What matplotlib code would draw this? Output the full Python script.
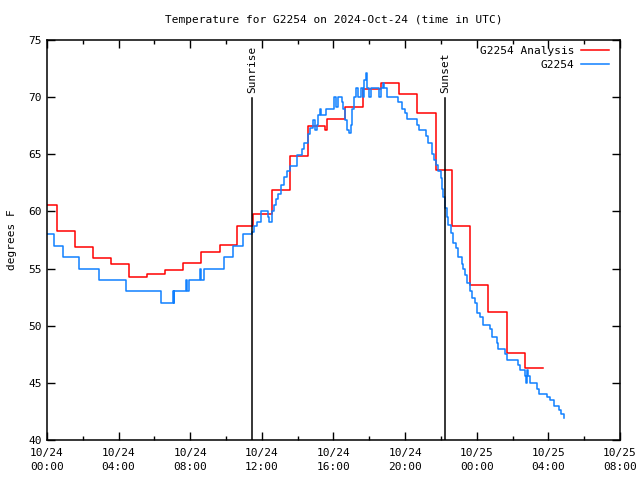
import matplotlib
matplotlib.use("Agg")
import matplotlib.pyplot as plt
import matplotlib.dates as mdates
from matplotlib.ticker import FixedLocator
import numpy as np
import pandas as pd

# hours after 2024-10-24 00:00 UTC
start = pd.Timestamp("2024-10-24 00:00")

analysis_hours = [0, 0.55, 1.55, 2.55, 3.56, 4.58, 5.57, 6.6, 7.6, 8.6, 9.66,
                  10.6, 11.5, 12.58, 13.6, 14.6, 15.53, 15.66, 16.65, 17.64,
                  18.66, 19.66, 20.65, 21.7, 22.64, 23.65, 24.65, 25.68, 26.7, 27.7]
analysis_temp = [60.6, 58.3, 56.85, 55.9, 55.4, 54.3, 54.5, 54.85, 55.5, 56.45, 57.1,
                 58.7, 59.8, 61.9, 64.85, 67.5, 67.1, 68.1, 69.1, 70.7,
                 71.2, 70.3, 68.6, 63.6, 58.75, 53.55, 51.2, 47.6, 46.27, 46.27]

obs_hours = [0.0, 0.37, 0.9, 1.8, 2.93, 4.44, 6.37, 7.02, 7.08, 7.12, 7.77, 7.83, 7.95,
             8.55, 8.62, 8.75, 9.9, 10.37, 10.97, 11.47, 11.58, 11.71, 11.96, 12.33,
             12.4, 12.59, 12.7, 12.78, 12.89, 13.07, 13.26, 13.39, 13.58, 13.95, 14.26,
             14.37, 14.56, 14.69, 14.88, 14.97, 15.07, 15.16, 15.25, 15.31, 15.57,
             16.03, 16.15, 16.28, 16.46, 16.55, 16.65, 16.78, 16.89, 16.97, 17.02,
             17.15, 17.26, 17.39, 17.53, 17.64, 17.71, 17.82, 17.9, 18.01, 18.08,
             18.56, 18.64, 18.75, 18.83, 18.98, 19.63, 19.82, 20.0, 20.1, 20.69,
             20.8, 21.17, 21.3, 21.49, 21.62, 21.73, 21.86, 21.99, 22.07, 22.14,
             22.23, 22.33, 22.42, 22.55, 22.7, 22.85, 22.98, 23.17, 23.26, 23.35,
             23.45, 23.63, 23.76, 23.91, 24.04, 24.19, 24.34, 24.75, 24.84, 25.16,
             25.21, 25.59, 25.68, 26.33, 26.42, 26.7, 26.74, 26.8, 26.86, 26.98,
             27.39, 27.5, 27.92, 28.1, 28.29, 28.57, 28.69, 28.85]
obs_temp = [58, 57, 56, 55, 54, 53, 52, 53, 52, 53, 54, 53, 54,
            55, 54, 55, 56, 57, 58, 58.2, 58.7, 59.1, 60.0, 59.5,
            59.1, 60.0, 60.6, 61.1, 61.5, 62.3, 63.0, 63.5, 64.0, 64.9, 65.5,
            66.0, 66.8, 67.3, 68.0, 67.1, 67.6, 68.4, 69.0, 68.4, 69.0,
            70.0, 69.1, 70.0, 69.6, 69.0, 68.0, 67.1, 66.9, 67.6, 69.0,
            70.0, 70.8, 70.0, 70.8, 70.0, 71.5, 72.1, 70.8, 70.0, 70.8,
            70.0, 70.8, 71.2, 70.8, 70.0, 69.6, 69.0, 68.6, 68.1, 67.6,
            67.1, 66.6, 66.0, 65.0, 64.5, 64.05, 63.5, 62.9, 62.0, 61.3,
            60.3, 59.5, 58.8, 58.1, 57.2, 56.8, 56.0, 55.4, 55.0, 54.4,
            53.7, 53.0, 52.4, 52.0, 51.1, 50.8, 50.1, 49.7, 49.0, 48.5,
            48.0, 47.5, 47.0, 46.6, 46.1, 45.6, 45.0, 46.1, 45.6, 45.0,
            44.5, 44.0, 43.8, 43.5, 43.0, 42.6, 42.3, 41.9]

sunrise_hour = 11.45
sunset_hour = 22.23


def to_time(hours):
    return start + pd.to_timedelta(np.asarray(hours, dtype=float), unit="h")


plt.rcParams['font.family'] = 'DejaVu Sans Mono'
fig = plt.figure(figsize=(6.4, 4.8), dpi=100)
ax = fig.add_axes([0.0734, 0.0833, 0.8953, 0.8334])

ax.step(to_time(analysis_hours), analysis_temp, where='post', color='#ff0000', lw=1.1,
        label='G2254 Analysis')
ax.step(to_time(obs_hours), obs_temp, where='post', color='#1080ff', lw=1.1, label='G2254')

for h, name in [(sunrise_hour, 'Sunrise'), (sunset_hour, 'Sunset')]:
    t = to_time([h])[0]
    ax.plot([t, t], [40, 69.9], color='black', lw=1.1)
    ax.text(t, 70.4, name, rotation=90, ha='center', va='bottom', fontsize=8)

ax.set_xlim(start, start + pd.Timedelta(hours=32))
ax.set_ylim(40, 75)
ax.xaxis.set_major_locator(FixedLocator(mdates.date2num(to_time(np.arange(0, 33, 4)))))
ax.xaxis.set_minor_locator(FixedLocator(mdates.date2num(to_time(np.arange(0, 33, 2)))))
ax.xaxis.set_major_formatter(mdates.DateFormatter('%m/%d\n%H:%M'))
ax.set_yticks(np.arange(40, 76, 5))
ax.tick_params(which='both', direction='in', top=True, right=True, labelsize=8, width=1)
ax.tick_params(which='major', length=6)
ax.tick_params(which='minor', length=3)
ax.tick_params(axis='x', pad=6)
plt.setp(ax.get_xticklabels(), linespacing=1.45)
for s in ax.spines.values():
    s.set_linewidth(1.1)

ax.set_ylabel('degrees F', fontsize=8)
ax.yaxis.set_label_coords(-0.053, 0.5)
ax.set_title('Temperature for G2254 on 2024-Oct-24 (time in UTC)', fontsize=8, pad=12)
ax.legend(loc='upper right', bbox_to_anchor=(0.981, 0.984), frameon=False,
          markerfirst=False, fontsize=8, handlelength=2.5, handletextpad=0.65,
          labelspacing=0.3, borderaxespad=0, borderpad=0)

fig.savefig('out.png', dpi=100)
